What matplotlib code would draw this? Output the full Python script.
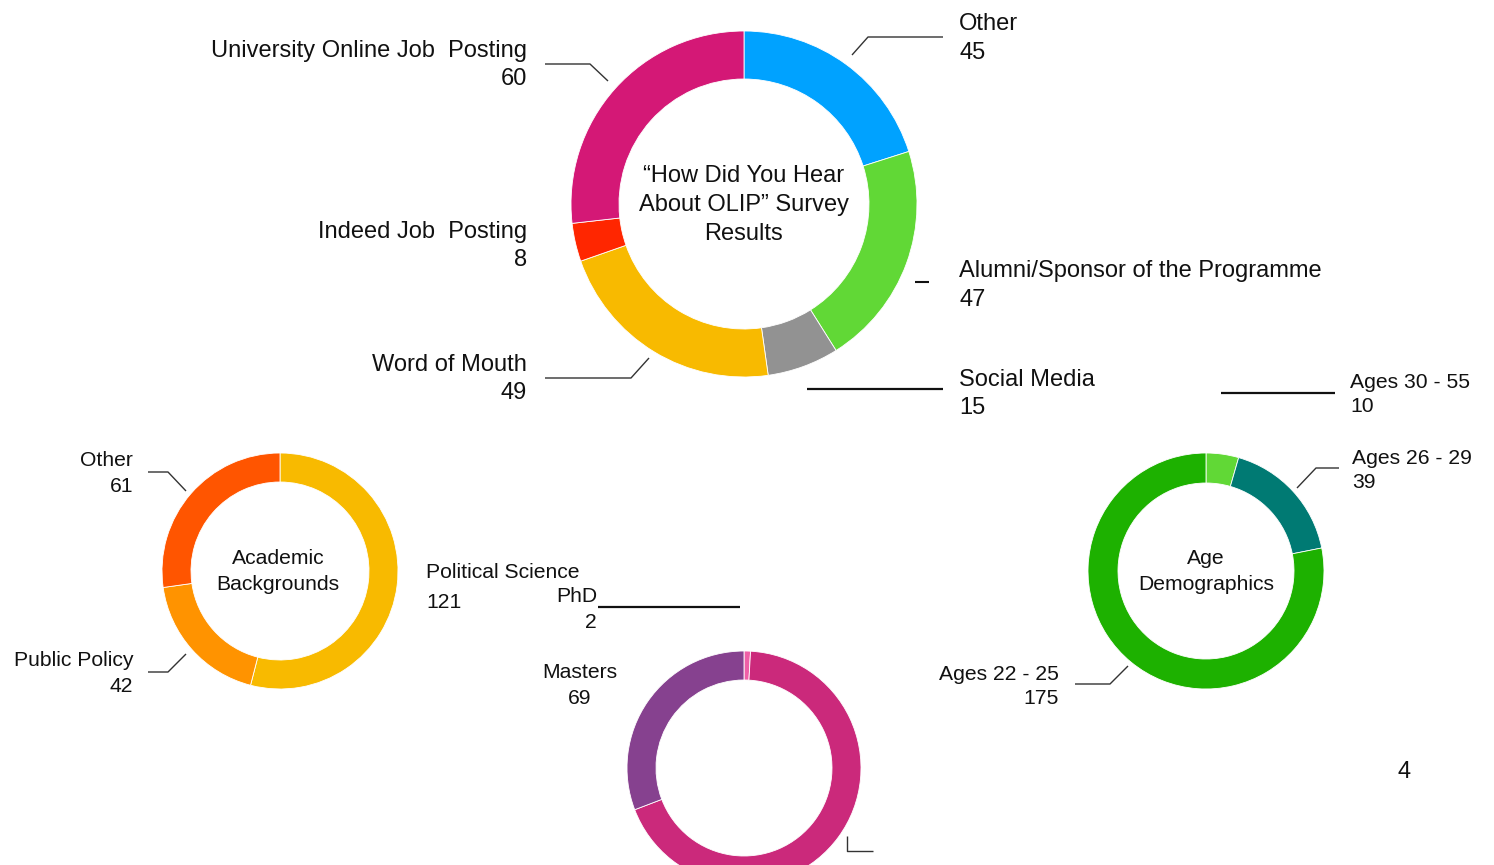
import matplotlib
matplotlib.use("Agg")
import matplotlib.pyplot as plt

plt.rcParams['font.family'] = ['Liberation Sans', 'DejaVu Sans']

W, H = 1494, 865

# ---- data ----
survey_labels = ["Other", "Alumni/Sponsor of the Programme", "Social Media",
                 "Word of Mouth", "Indeed Job  Posting", "University Online Job  Posting"]
survey_values = [45, 47, 15, 49, 8, 60]
survey_colors = ["#00A2FF", "#61D836", "#929292", "#F8BA00", "#FF2600", "#D41876"]

academic_labels = ["Political Science", "Public Policy", "Other"]
academic_values = [121, 42, 61]
academic_colors = ["#F8BA00", "#FF9300", "#FF5500"]

degree_labels = ["PhD", "Bachelors", "Masters"]
degree_values = [2, 153, 69]
degree_colors = ["#EF5FA7", "#CB297B", "#86418F"]

age_labels = ["Ages 30 - 55", "Ages 26 - 29", "Ages 22 - 25"]
age_values = [10, 39, 175]
age_colors = ["#61D836", "#007A73", "#1DB100"]

fig = plt.figure(figsize=(W / 100, H / 100), dpi=100)
ax = fig.add_axes([0, 0, 1, 1])
ax.set_xlim(0, W)
ax.set_ylim(0, H)
ax.set_aspect('equal')
ax.axis('off')


def Y(y):
    return H - y


def donut(vals, cols, cx, cy, r_out, r_in):
    ax.pie(vals, colors=cols, center=(cx, Y(cy)), radius=r_out, startangle=90,
           counterclock=False, wedgeprops=dict(width=r_out - r_in, edgecolor='white', linewidth=0.6),
           frame=True)


donut(survey_values, survey_colors, 744, 204, 173, 125)
donut(academic_values, academic_colors, 280, 571, 118, 89)
donut(degree_values, degree_colors, 744, 768, 117, 88)
donut(age_values, age_colors, 1206, 571, 118, 88)

ax.set_xlim(0, W)
ax.set_ylim(0, H)
ax.axis('off')


def line(pts, color="#333333", lw=1.0):
    ax.plot([p[0] for p in pts], [Y(p[1]) for p in pts], color=color, lw=lw, solid_capstyle='butt')


def label(x, y, name, val, ha, size, gap):
    ax.text(x, Y(y), name, ha=ha, va='center', fontsize=size, color='#111111')
    ax.text(x, Y(y + gap), str(val), ha=ha, va='center', fontsize=size, color='#111111')


BIG = 17
SMALL = 15.2

# Top donut labels
line([(852, 55), (868, 37), (943, 37)])
label(959, 24, survey_labels[0], survey_values[0], 'left', BIG, 29)
line([(915, 282), (929, 282)], color="#111111", lw=1.5)
label(959, 271, survey_labels[1], survey_values[1], 'left', BIG, 29)
line([(807, 389), (943, 389)], color="#111111", lw=1.6)
label(959, 380, survey_labels[2], survey_values[2], 'left', BIG, 28)
line([(649, 358), (631, 378), (545, 378)])
label(527, 365, survey_labels[3], survey_values[3], 'right', BIG, 28)
label(527, 232, survey_labels[4], survey_values[4], 'right', BIG, 28)
line([(608, 81), (590, 64), (545, 64)])
label(527, 51, survey_labels[5], survey_values[5], 'right', BIG, 28)

ax.text(744, Y(176), "\u201cHow Did You Hear", ha='center', va='center', fontsize=BIG, color='#111111')
ax.text(744, Y(205), "About OLIP\u201d Survey", ha='center', va='center', fontsize=BIG, color='#111111')
ax.text(744, Y(234), "Results", ha='center', va='center', fontsize=BIG, color='#111111')

# Academic donut labels
line([(186, 491), (168, 472), (148, 472)])
label(133, 461, academic_labels[2], academic_values[2], 'right', SMALL, 25)
line([(186, 654), (168, 672), (148, 672)])
label(133, 661, academic_labels[1], academic_values[1], 'right', SMALL, 25)
label(426, 573, academic_labels[0], academic_values[0], 'left', SMALL, 29)
ax.text(278, Y(558), "Academic", ha='center', va='center', fontsize=SMALL, color='#111111')
ax.text(278, Y(585), "Backgrounds", ha='center', va='center', fontsize=SMALL, color='#111111')

# Degree donut labels
line([(598, 607), (740, 607)], color="#111111", lw=1.6)
label(597, 597, degree_labels[0], degree_values[0], 'right', SMALL, 25)
label(580, 673, degree_labels[2], degree_values[2], 'center', SMALL, 26)
line([(847, 836), (847, 851), (873, 851)])

# Age donut labels
line([(1221, 393), (1335, 393)], color="#111111", lw=1.6)
label(1350, 382, age_labels[0], age_values[0], 'left', SMALL, 25)
line([(1297, 488), (1316, 468), (1339, 468)])
label(1352, 458, age_labels[1], age_values[1], 'left', SMALL, 25)
line([(1128, 666), (1110, 684), (1075, 684)])
label(1059, 674, age_labels[2], age_values[2], 'right', SMALL, 25)
ax.text(1206, Y(558), "Age", ha='center', va='center', fontsize=SMALL, color='#111111')
ax.text(1206, Y(585), "Demographics", ha='center', va='center', fontsize=SMALL, color='#111111')

ax.text(1404, Y(772), "4", ha='center', va='center', fontsize=BIG, color='#111111')

fig.savefig("out.png", dpi=100)
